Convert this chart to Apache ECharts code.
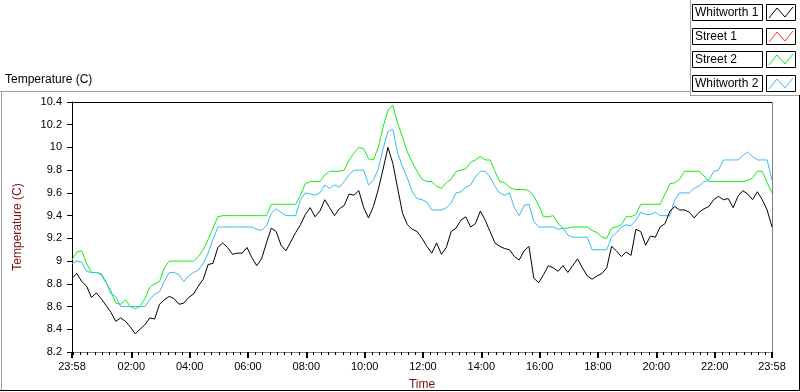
<!DOCTYPE html>
<html><head><meta charset="utf-8">
<script src="https://cdn.jsdelivr.net/npm/echarts@6/dist/echarts.min.js"></script>
<style>html,body{margin:0;padding:0;background:#fff}#c{width:800px;height:392px}</style>
</head><body><div id="c"></div>
<script>
// Samples every 10 minutes starting at 23:58 (index 0) through 23:58 next day (index 144)
const sampleStepMin = 10;
const startClockMin = 23 * 60 + 58;
const seriesNames = ['Whitworth 1', 'Street 1', 'Street 2', 'Whitworth 2'];
const seriesColors = ['#000000', '#ff3c3c', '#10ee10', '#3cb9f2'];

const whitworth1 = [
  8.85, 8.89, 8.82, 8.78, 8.68, 8.72, 8.67, 8.61, 8.55, 8.47, 8.50, 8.47, 8.42, 8.36, 8.40, 8.44, 8.50, 8.49, 8.62, 8.66, 8.69, 8.67, 8.62, 8.63, 8.68, 8.71, 8.78, 8.84, 8.97,
  8.98, 9.12, 9.16, 9.12, 9.06, 9.07, 9.07, 9.12, 9.03, 8.96, 9.02, 9.16, 9.29, 9.26, 9.14, 9.09, 9.17, 9.25, 9.32, 9.41, 9.47, 9.39, 9.44, 9.54, 9.47, 9.40, 9.46, 9.49, 9.59,
  9.58, 9.62, 9.47, 9.38, 9.48, 9.63, 9.81, 10.00, 9.86, 9.64, 9.42, 9.32, 9.28, 9.26, 9.20, 9.13, 9.07, 9.16, 9.06, 9.12, 9.26, 9.29, 9.36, 9.39, 9.30, 9.33, 9.44, 9.36, 9.26,
  9.16, 9.13, 9.11, 9.10, 9.04, 9.01, 9.09, 9.13, 8.85, 8.81, 8.88, 8.96, 8.94, 8.91, 8.96, 8.90, 8.96, 9.02, 8.94, 8.87, 8.84, 8.87, 8.89, 8.94, 9.13, 9.09, 9.04, 9.08, 9.05,
  9.28, 9.26, 9.14, 9.22, 9.21, 9.30, 9.33, 9.44, 9.48, 9.45, 9.45, 9.43, 9.38, 9.43, 9.46, 9.48, 9.54, 9.57, 9.54, 9.55, 9.47, 9.57, 9.62, 9.59, 9.54, 9.61, 9.54, 9.45, 9.30
];
const street1 = [];
const street2 = [
  9.01, 9.08, 9.09, 8.98, 8.90, 8.90, 8.88, 8.81, 8.74, 8.63, 8.62, 8.66, 8.60, 8.60, 8.60, 8.67, 8.77, 8.80, 8.82, 8.94, 9.00, 9.00, 9.00, 9.00, 9.00, 9.00, 9.04, 9.10, 9.19,
  9.29, 9.39, 9.40, 9.40, 9.40, 9.40, 9.40, 9.40, 9.40, 9.40, 9.40, 9.40, 9.50, 9.50, 9.50, 9.50, 9.50, 9.50, 9.58, 9.68, 9.70, 9.70, 9.70, 9.76, 9.79, 9.79, 9.79, 9.80, 9.89,
  9.95, 10.00, 9.99, 9.90, 9.89, 10.00, 10.18, 10.33, 10.37, 10.21, 10.09, 9.96, 9.87, 9.79, 9.72, 9.70, 9.70, 9.66, 9.64, 9.69, 9.72, 9.79, 9.80, 9.81, 9.87, 9.89, 9.92, 9.89, 9.89,
  9.79, 9.70, 9.69, 9.65, 9.63, 9.63, 9.63, 9.62, 9.57, 9.49, 9.39, 9.39, 9.40, 9.33, 9.29, 9.29, 9.30, 9.30, 9.30, 9.30, 9.27, 9.25, 9.21, 9.20, 9.29, 9.30, 9.32, 9.39, 9.39,
  9.41, 9.50, 9.50, 9.50, 9.50, 9.50, 9.59, 9.68, 9.69, 9.72, 9.79, 9.79, 9.79, 9.79, 9.75, 9.70, 9.70, 9.70, 9.70, 9.70, 9.70, 9.70, 9.70, 9.71, 9.73, 9.79, 9.79, 9.69, 9.60
];
const whitworth2 = [
  8.98, 9.00, 8.99, 8.91, 8.90, 8.90, 8.89, 8.82, 8.71, 8.69, 8.60, 8.60, 8.60, 8.58, 8.60, 8.60, 8.66, 8.71, 8.73, 8.82, 8.90, 8.90, 8.88, 8.82, 8.87, 8.90, 8.92, 8.98, 9.07,
  9.19, 9.30, 9.30, 9.30, 9.30, 9.30, 9.30, 9.30, 9.30, 9.28, 9.27, 9.31, 9.42, 9.46, 9.43, 9.40, 9.40, 9.40, 9.54, 9.60, 9.59, 9.58, 9.60, 9.67, 9.64, 9.67, 9.65, 9.70, 9.76,
  9.80, 9.80, 9.80, 9.67, 9.71, 9.81, 9.99, 10.14, 10.16, 9.95, 9.83, 9.73, 9.61, 9.55, 9.54, 9.52, 9.45, 9.45, 9.45, 9.47, 9.51, 9.60, 9.61, 9.65, 9.67, 9.74, 9.79, 9.79, 9.74,
  9.66, 9.60, 9.58, 9.60, 9.47, 9.40, 9.49, 9.50, 9.35, 9.30, 9.30, 9.30, 9.30, 9.28, 9.29, 9.23, 9.21, 9.21, 9.21, 9.21, 9.10, 9.10, 9.10, 9.10, 9.21, 9.25, 9.30, 9.32, 9.31,
  9.36, 9.43, 9.41, 9.41, 9.43, 9.40, 9.40, 9.40, 9.54, 9.60, 9.60, 9.60, 9.64, 9.66, 9.70, 9.71, 9.79, 9.80, 9.89, 9.89, 9.89, 9.89, 9.93, 9.96, 9.92, 9.89, 9.89, 9.89, 9.71
];

// Axis ticks (minutes since 23:58)
const majorTicks = [0, 122, 242, 362, 482, 602, 722, 842, 962, 1082, 1202, 1322, 1440];
const minorTicks = [];
for (let m = 2; m < 1440; m += 15) minorTicks.push(m);
const yMin = 8.2, yMax = 10.4, yStep = 0.2;

function clockLabel(m) {
  const t = Math.round(startClockMin + m) % 1440;
  const h = Math.floor(t / 60), mm = t % 60;
  return String(h).padStart(2, '0') + ':' + String(mm).padStart(2, '0');
}
function toPairs(arr) { return arr.map((v, i) => [i * sampleStepMin, v]); }

const seriesData = [whitworth1, street1, street2, whitworth2];

const font = 'Liberation Sans, Arial, sans-serif';
const maroon = '#7f1010';

// legend graphic
const legendRows = [4, 28, 51, 75];
const legendGraphics = [];
seriesNames.forEach((n, i) => {
  const y = legendRows[i];
  legendGraphics.push({ type: 'rect', shape: { x: 692.5, y: y + 0.5, width: 70, height: 16 }, style: { fill: '#fff', stroke: '#000', lineWidth: 1 }, silent: true });
  legendGraphics.push({ type: 'text', x: 695, y: y + 9, style: { text: n, font: '12px ' + font, fill: '#000', verticalAlign: 'middle' }, silent: true });
  legendGraphics.push({ type: 'rect', shape: { x: 766.5, y: y + 0.5, width: 29, height: 16 }, style: { fill: '#fff', stroke: '#000', lineWidth: 1 }, silent: true });
  legendGraphics.push({ type: 'polyline', shape: { points: [[769, y + 14], [777, y + 4], [785, y + 13], [793, y + 3]] }, style: { stroke: seriesColors[i], lineWidth: 1, fill: null }, silent: true });
});

const chart = echarts.init(document.getElementById('c'), null, { renderer: 'canvas' });
chart.setOption({
  animation: false,
  backgroundColor: '#ffffff',
  grid: { left: 72, top: 102, width: 700, height: 250, containLabel: false, outerBoundsMode: 'none' },
  xAxis: [{
    type: 'value', min: 0, max: 1440, position: 'bottom',
    name: 'Time', nameLocation: 'middle', nameGap: 27,
    nameTextStyle: { color: maroon, fontSize: 12, fontFamily: font },
    axisLine: { show: true, lineStyle: { color: '#808080', width: 1 } },
    axisTick: { show: true, customValues: majorTicks, length: 6, lineStyle: { color: '#000', width: 2 } },
    axisLabel: { customValues: majorTicks, formatter: clockLabel, color: '#000', fontSize: 11, fontFamily: font, margin: 9 },
    splitLine: { show: false }
  }, {
    type: 'value', min: 0, max: 1440, position: 'bottom', gridIndex: 0,
    axisLine: { show: false },
    axisTick: { show: true, customValues: minorTicks, length: 3, lineStyle: { color: '#000', width: 1 } },
    axisLabel: { show: false }, splitLine: { show: false }
  }],
  yAxis: {
    type: 'value', min: yMin, max: yMax, interval: yStep,
    name: 'Temperature (C)', nameLocation: 'middle', nameGap: 48, nameRotate: 90,
    nameTextStyle: { color: maroon, fontSize: 12, fontFamily: font },
    axisLine: { show: true, lineStyle: { color: '#000', width: 1 } },
    axisTick: { show: true, length: 5, lineStyle: { color: '#000' } },
    axisLabel: { color: '#000', fontSize: 11, fontFamily: font, margin: 10,
      formatter: v => String(Math.round(v * 10) / 10) },
    splitLine: { show: false }
  },
  series: seriesNames.map((n, i) => ({
    name: n, type: 'line', data: toPairs(seriesData[i]),
    showSymbol: false, symbol: 'none', clip: true, z: [5, 2, 3, 4][i],
    lineStyle: { color: seriesColors[i], width: 1 }, itemStyle: { color: seriesColors[i] }
  })),
  graphic: [
    { type: 'text', x: 5, y: 80, style: { text: 'Temperature (C)', font: '12px ' + font, fill: '#000', verticalAlign: 'middle' }, silent: true },
    { type: 'line', shape: { x1: 0, y1: 91.5, x2: 690, y2: 91.5 }, style: { stroke: '#a0a0a0', lineWidth: 1 }, silent: true },
    { type: 'line', shape: { x1: 690.5, y1: 0, x2: 690.5, y2: 95 }, style: { stroke: '#a0a0a0', lineWidth: 1 }, silent: true },
    { type: 'line', shape: { x1: 690, y1: 95.5, x2: 800, y2: 95.5 }, style: { stroke: '#a0a0a0', lineWidth: 1 }, silent: true },
    { type: 'line', shape: { x1: 1.5, y1: 91, x2: 1.5, y2: 390 }, style: { stroke: '#a0a0a0', lineWidth: 1 }, silent: true },
    { type: 'line', shape: { x1: 0, y1: 390.5, x2: 800, y2: 390.5 }, style: { stroke: '#000', lineWidth: 1 }, silent: true },
    { type: 'line', shape: { x1: 799.5, y1: 95, x2: 799.5, y2: 391 }, style: { stroke: '#000', lineWidth: 1 }, silent: true },
    { type: 'line', shape: { x1: 72, y1: 102.5, x2: 772, y2: 102.5 }, style: { stroke: '#000', lineWidth: 1 }, silent: true },
    { type: 'line', shape: { x1: 772.5, y1: 102, x2: 772.5, y2: 352 }, style: { stroke: '#808080', lineWidth: 1 }, silent: true }
  ].concat(legendGraphics)
});
</script>
</body></html>
